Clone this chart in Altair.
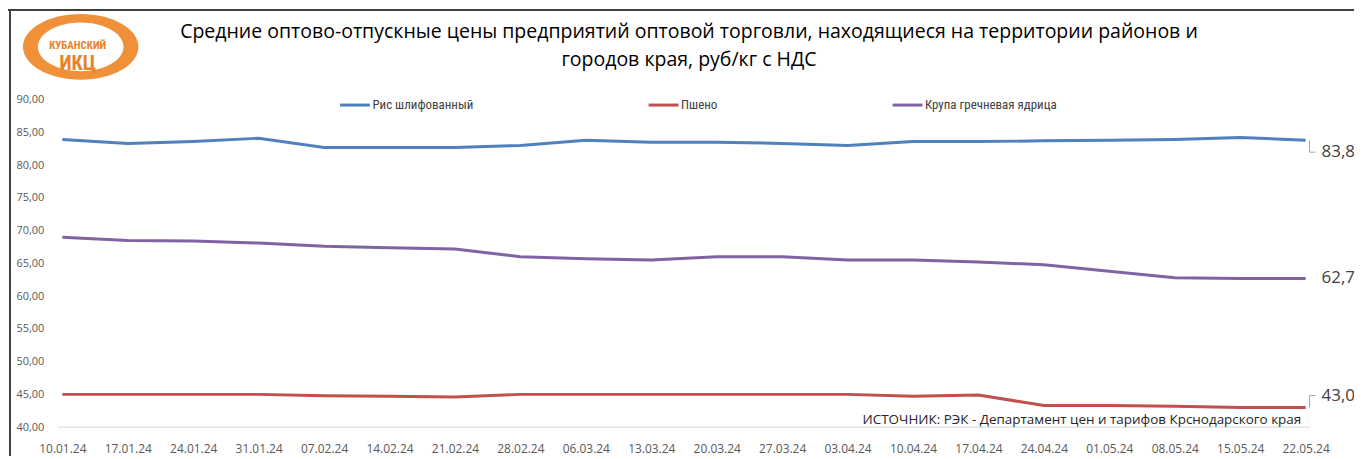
import altair as alt
import pandas as pd

dates = ["10.01.24", "17.01.24", "24.01.24", "31.01.24", "07.02.24", "14.02.24", "21.02.24",
         "28.02.24", "06.03.24", "13.03.24", "20.03.24", "27.03.24", "03.04.24", "10.04.24",
         "17.04.24", "24.04.24", "01.05.24", "08.05.24", "15.05.24", "22.05.24"]
series_names = ["Рис шлифованный", "Пшено", "Крупа гречневая ядрица"]
ris = [83.9, 83.3, 83.6, 84.1, 82.7, 82.7, 82.7, 83.0, 83.8, 83.5,
       83.5, 83.3, 83.0, 83.6, 83.6, 83.7, 83.8, 83.9, 84.2, 83.8]
psheno = [45.0, 45.0, 45.0, 45.0, 44.8, 44.7, 44.6, 45.0, 45.0, 45.0,
          45.0, 45.0, 45.0, 44.7, 44.9, 43.3, 43.3, 43.2, 43.0, 43.0]
grecha = [69.0, 68.5, 68.4, 68.1, 67.6, 67.4, 67.2, 66.0, 65.7, 65.5,
          66.0, 66.0, 65.5, 65.5, 65.2, 64.8, 63.8, 62.8, 62.7, 62.7]
y_ticks = [40, 45, 50, 55, 60, 65, 70, 75, 80, 85, 90]
y_base = 40
colors = ["#4F81BD", "#C0504D", "#8064A2"]
title_lines = ["Средние оптово-отпускные цены предприятий оптовой торговли, находящиеся на территории районов и",
               "городов края, руб/кг с НДС"]
source_text = "ИСТОЧНИК: РЭК - Департамент цен и тарифов Крснодарского края"
logo_lines = ["КУБАНСКИЙ", "ИКЦ"]

rows = []
for name, vals in zip(series_names, [ris, psheno, grecha]):
    for d, v in zip(dates, vals):
        rows.append({"date": d, "series": name, "value": v})
df = pd.DataFrame(rows)

FONT = "Open Sans"
NARROW = "Liberation Sans Narrow, Roboto Condensed, Arial Narrow, Roboto, sans-serif"
W, H = 1258, 329

x_enc = alt.X("date:N", sort=dates,
              scale=alt.Scale(type="point", padding=0.07),
              axis=alt.Axis(title=None, labelAngle=0, ticks=False, domain=False,
                            labelColor="#595959", labelFont=FONT,
                            labelFontSize=12, labelPadding=16, labelOverlap=False))
y_enc = alt.Y("value:Q", scale=alt.Scale(domain=[40, 90], nice=False, zero=False),
              axis=alt.Axis(title=None, values=y_ticks, tickCount=11, grid=False, domain=False,
                            ticks=False, labelColor="#595959", labelFont=FONT, labelFontSize=11,
                            labelPadding=14, labelOverlap=False,
                            labelExpr="replace(format(datum.value, '.2f'), '.', ',')"))

base = alt.Chart(df)

baseline_rule = alt.Chart(pd.DataFrame({"value": [y_base]})).mark_rule(
    color="#d4d4d4", strokeWidth=1).encode(
    y=y_enc, x=alt.value(0), x2=alt.value(W))

lines = base.mark_line(strokeWidth=3).encode(
    x=x_enc, y=y_enc,
    color=alt.Color("series:N", sort=series_names,
                    scale=alt.Scale(domain=series_names, range=colors),
                    legend=alt.Legend(title=None, orient="none", legendX=282, legendY=-11,
                                      direction="horizontal", columns=3, gridAlign="none",
                                      columnPadding=169, symbolType="stroke",
                                      symbolStrokeWidth=3, symbolSize=900, labelOffset=1,
                                      labelFont=NARROW, labelFontSize=13,
                                      labelColor="#404040")),
)

last = base.transform_filter(alt.datum.date == dates[-1]).transform_calculate(
    label="replace(format(datum.value, '.1f'), '.', ',')")

label_offsets = {"Рис шлифованный": 12, "Пшено": -12, "Крупа гречневая ядрица": 0}
leader_down = "M0.33,0L0.33,1L0.83,1"
leader_up = "M0.33,0L0.33,-1L0.83,-1"
end_layers = []
for name in series_names:
    off = label_offsets[name]
    sub = last.transform_filter(alt.datum.series == name)
    end_layers.append(sub.mark_text(align="left", baseline="middle", dx=16, dy=off,
                                    fontSize=17, font=FONT, color="#404040").encode(
        x=x_enc, y=y_enc, text="label:N"))
    if off != 0:
        end_layers.append(sub.mark_point(shape=leader_down if off > 0 else leader_up,
                                         filled=False, size=576, color="#a6a6a6",
                                         strokeWidth=1, opacity=1).encode(
            x=x_enc, y=y_enc))

one = alt.Chart(pd.DataFrame({"k": [0]}))
source = one.mark_text(align="right", baseline="middle", font=FONT, fontSize=13.5,
                       color="#262626").encode(
    x=alt.value(W - 9), y=alt.value(322), text=alt.value(source_text))

title_df = pd.DataFrame({"t": title_lines, "i": [0, 1]})
title1 = alt.Chart(title_df).transform_filter(alt.datum.i == 0).mark_text(
    font=FONT, fontSize=19.6, color="#000000", baseline="middle").encode(
    x=alt.value(634), y=alt.value(-68), text="t:N")
title2 = alt.Chart(title_df).transform_filter(alt.datum.i == 1).mark_text(
    font=FONT, fontSize=19.6, color="#000000", baseline="middle").encode(
    x=alt.value(634), y=alt.value(-40), text="t:N")

# frame
frame_left = one.mark_rule(color="#404040", strokeWidth=2).encode(
    x=alt.value(-48), y=alt.value(-91), y2=alt.value(H + 40))
frame_top = one.mark_rule(color="#404040", strokeWidth=2).encode(
    x=alt.value(-50), x2=alt.value(W + 60), y=alt.value(-90))

# logo
ellipse = "M-1,0A1,0.57 0 1,0 1,0A1,0.57 0 1,0 -1,0Z"
logo_outer = one.mark_point(shape=ellipse, filled=True, color="#F0913A", opacity=1,
                            size=116 * 116).encode(x=alt.value(23), y=alt.value(-53))
logo_inner = one.mark_point(shape=ellipse, filled=True, color="#ffffff", opacity=1,
                            size=86 * 86).encode(x=alt.value(23), y=alt.value(-53))
logo_df = pd.DataFrame({"t": logo_lines, "i": [0, 1]})
logo_text1 = alt.Chart(logo_df).transform_filter(alt.datum.i == 0).mark_text(
    font=NARROW, fontSize=11, fontWeight="bold", color="#E8822A", baseline="middle").encode(
    x=alt.value(20), y=alt.value(-54), text="t:N")
logo_text2 = alt.Chart(logo_df).transform_filter(alt.datum.i == 1).mark_text(
    font=NARROW, fontSize=20, fontWeight="bold", color="#E8822A", baseline="middle").encode(
    x=alt.value(20), y=alt.value(-36), text="t:N")

chart = alt.layer(lines, baseline_rule, *end_layers, source, title1, title2, frame_left,
                  frame_top, logo_outer, logo_inner, logo_text1, logo_text2).properties(
    width=W, height=H,
    padding={"left": 50, "top": 91, "right": 44, "bottom": 28},
    autosize=alt.AutoSizeParams(type="none"),
    background="#ffffff",
).configure_view(strokeWidth=0, stroke="transparent")

chart.save("out.html", embed_options={"renderer": "svg", "actions": False})
